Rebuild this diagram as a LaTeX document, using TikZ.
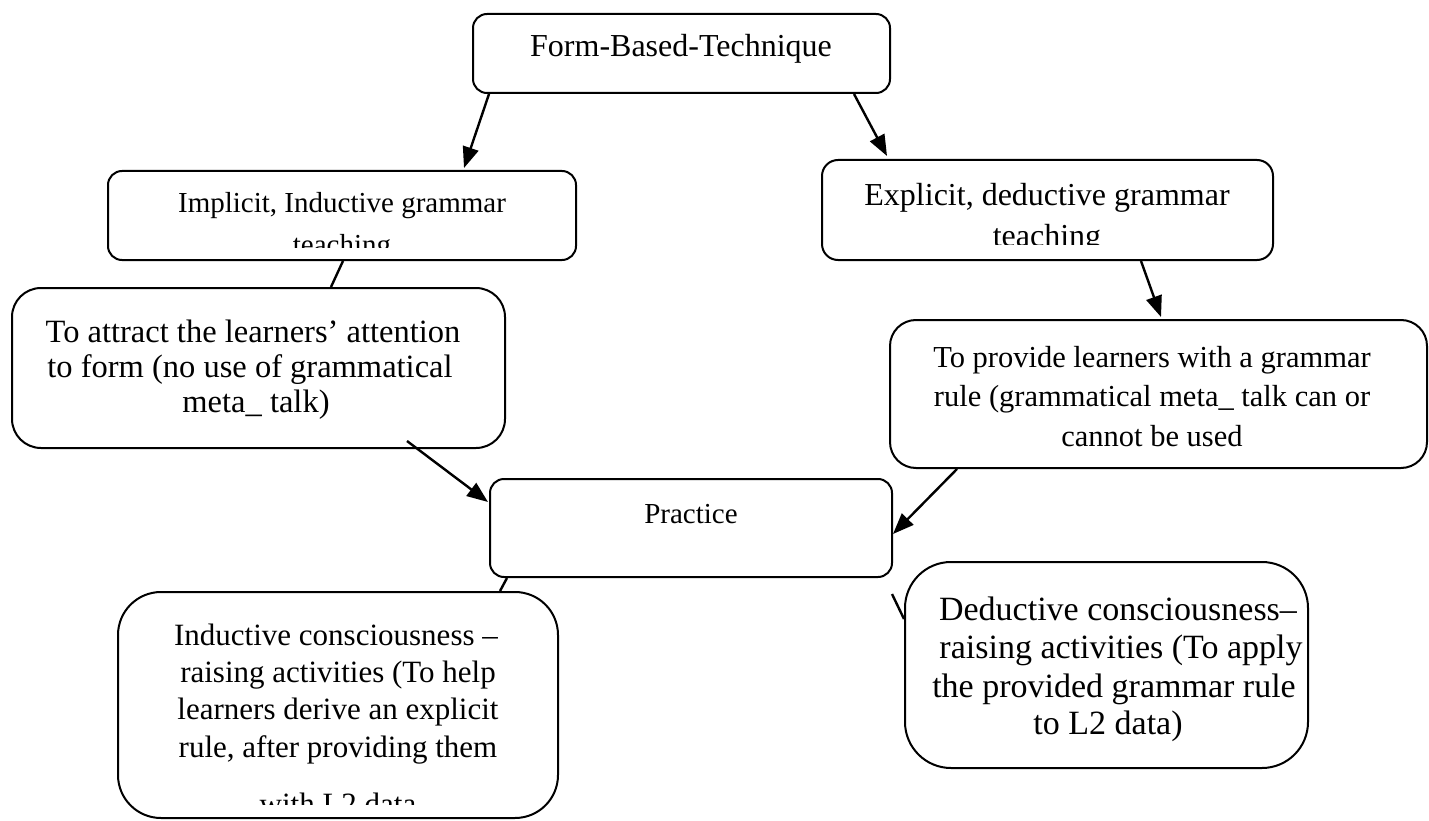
\documentclass[tikz,border=0pt]{standalone}
\usepackage{fontspec}
\setmainfont{Liberation Serif}
\usetikzlibrary{arrows.meta}
\newcommand\setfs[1]{\fontsize{#1}{#1}\selectfont}
\tikzset{
  box/.style={draw, line width=2pt, inner sep=0pt, fill=white},
  lbl/.style={anchor=base, inner sep=0pt},
  arr/.style={line width=2.4pt, -{Triangle[length=21pt,width=16pt]}},
  link/.style={line width=2.4pt},
}
\begin{document}
\begin{tikzpicture}[x=1pt,y=-1pt]
\useasboundingbox (0,0) rectangle (1429,821);
% boxes
\node[box, rounded corners=14pt, minimum width=417pt, minimum height=79pt] (top) at (681.5,53.5) {};
\node[box, rounded corners=14pt, minimum width=468pt, minimum height=89pt] (impl) at (342,215.5) {};
\node[box, rounded corners=16pt, minimum width=451pt, minimum height=100pt] (expl) at (1047.5,210) {};
\node[box, rounded corners=29pt, minimum width=493pt, minimum height=160pt] (attr) at (258.5,368) {};
\node[box, rounded corners=26pt, minimum width=537pt, minimum height=148pt] (prov) at (1158.5,394) {};
\node[box, rounded corners=14pt, minimum width=402pt, minimum height=98pt] (prac) at (691,528) {};
\node[box, rounded corners=43pt, minimum width=440pt, minimum height=226pt] (ind) at (338,705) {};
\node[box, rounded corners=46pt, minimum width=403pt, minimum height=206pt] (ded) at (1106.5,665) {};
% texts
\node[lbl, font=\setfs{32}] (t1) at (681,57) {Form-Based-Technique};
\node[lbl, font=\setfs{29}] (i1) at (342,213) {Implicit, Inductive grammar};
\begin{scope}
  \clip (108,171) rectangle (576,247);
  \node[lbl, font=\setfs{29}] (i2) at (342,254) {teaching};
\end{scope}
\node[lbl, font=\setfs{32}] (e1) at (1047,205) {Explicit, deductive grammar};
\begin{scope}
  \clip (822,160) rectangle (1273,244);
  \node[lbl, font=\setfs{32}] (e2) at (1047,246) {teaching};
\end{scope}
\node[lbl, font=\setfs{32.5}] (a1) at (253,342) {To attract the learners’ attention};
\node[lbl, font=\setfs{32.5}] (a2) at (250,377) {to form (no use of grammatical};
\node[lbl, font=\setfs{32.5}] (a3) at (256,412) {meta\_ talk)};
\node[lbl, font=\setfs{30.5}] (p1) at (1152,367) {To provide learners with a grammar};
\node[lbl, font=\setfs{30.5}] (p2) at (1152,406) {rule (grammatical meta\_ talk can or};
\node[lbl, font=\setfs{30.5}] (p3) at (1152,446) {cannot be used};
\node[lbl, font=\setfs{29}] (r1) at (691,523) {Practice};
\node[lbl, font=\setfs{31}] (n1) at (336,645) {Inductive consciousness –};
\node[lbl, font=\setfs{31}] (n2) at (338,682) {raising activities (To help};
\node[lbl, font=\setfs{31}] (n3) at (338,719) {learners derive an explicit};
\node[lbl, font=\setfs{31}] (n4) at (338,757) {rule, after providing them};
\begin{scope}
  \clip (118,592) rectangle (558,804);
  \node[lbl, font=\setfs{31}] (n5) at (338,814) {with L2 data};
\end{scope}
\node[lbl, font=\setfs{34}] (d1) at (1118,620) {Deductive consciousness–};
\node[lbl, font=\setfs{34}] (d2) at (1121,658) {raising activities (To apply};
\node[lbl, font=\setfs{34}] (d3) at (1114,697) {the provided grammar rule};
\node[lbl, font=\setfs{34}] (d4) at (1108,734) {to L2 data)};
% connectors
\draw[arr] ([xshift=17pt]top.south west) -- ([xshift=357pt,yshift=2pt]impl.north west);
\draw[arr] ([xshift=-37pt]top.south east) -- ([xshift=66pt,yshift=3pt]expl.north west);
\draw[link] ([xshift=236pt]impl.south west) -- ([xshift=320pt]attr.north west);
\draw[arr] ([xshift=-133pt]expl.south east) -- ([xshift=272pt,yshift=2pt]prov.north west);
\draw[arr] ([xshift=396pt,yshift=8pt]attr.south west) -- ([xshift=-1pt,yshift=-24pt]prac.north west);
\draw[arr] ([xshift=68pt]prov.south west) -- ([yshift=-56pt]prac.north east);
\draw[link] ([xshift=18pt]prac.south west) -- ([xshift=383pt]ind.north west);
\draw[link] ([xshift=-1pt,yshift=-16pt]prac.south east) -- ([yshift=-58pt]ded.north west);
\end{tikzpicture}
\end{document}
